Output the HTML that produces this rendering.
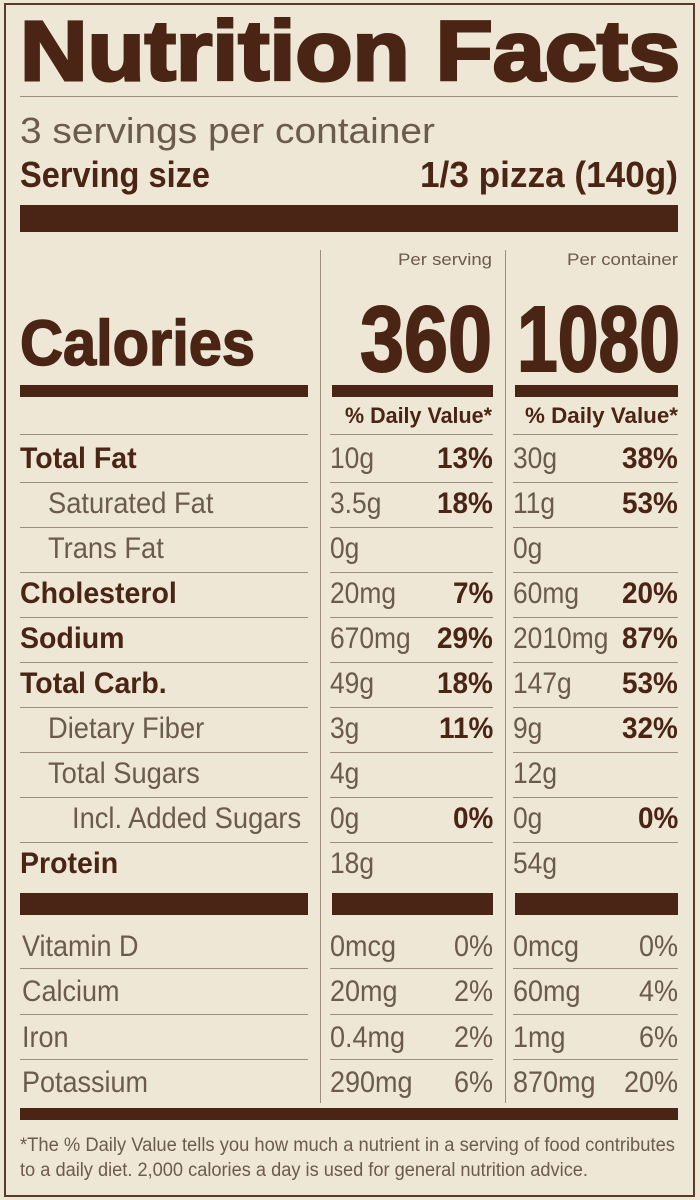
<!DOCTYPE html>
<html><head><meta charset="utf-8">
<style>
html,body{margin:0;padding:0}
body{width:700px;height:1200px;position:relative;overflow:hidden;background:#efe7d6;font-family:"Liberation Sans",sans-serif}
.t{position:absolute;white-space:nowrap;line-height:1}
.r{position:absolute}
</style></head>
<body>
<div class="r" style="left:4px;top:3px;width:687px;height:1190px;border:2px solid #5a3a28"></div>
<script>
const DARK='#4a2414', GRAY='#6b5b4b', LINE='#9c8d7c';
const upperLabels=['Total Fat','Saturated Fat','Trans Fat','Cholesterol','Sodium','Total Carb.','Dietary Fiber','Total Sugars','Incl. Added Sugars','Protein'];
const upperIndent=[0,1,1,0,0,0,1,1,2,0];
const servAmt=['10g','3.5g','0g','20mg','670mg','49g','3g','4g','0g','18g'];
const servPct=['13%','18%','','7%','29%','18%','11%','','0%',''];
const contAmt=['30g','11g','0g','60mg','2010mg','147g','9g','12g','0g','54g'];
const contPct=['38%','53%','','20%','87%','53%','32%','','0%',''];
const lowerLabels=['Vitamin D','Calcium','Iron','Potassium'];
const lowerServAmt=['0mcg','20mg','0.4mg','290mg'];
const lowerServPct=['0%','2%','2%','6%'];
const lowerContAmt=['0mcg','60mg','1mg','870mg'];
const lowerContPct=['0%','4%','6%','20%'];

const root=document.body;
function T(name,text,x,base,size,bold,color,w,align,stroke){
  const el=document.createElement('div');
  el.className='t';
  
  
  el.textContent=text;
  el.style.fontSize=size+'px';
  el.style.fontWeight=bold?'bold':'normal';
  el.style.color=color;
  if(stroke){el.style.webkitTextStroke=stroke+'px '+color;}
  el.style.top=(base-0.846*size)+'px';
  root.appendChild(el);
  const nat=el.getBoundingClientRect().width;
  const sx=w/nat;
  if(align==='right'){el.style.left=(x-w)+'px';}
  else el.style.left=x+'px';
  el.style.transformOrigin='0 0';
  el.style.transform='scaleX('+sx+')';
  return el;
}
function R(name,x,y,w,h,c){
  const el=document.createElement('div');
  el.className='r';
  
  
  el.style.cssText+='left:'+x+'px;top:'+y+'px;width:'+w+'px;height:'+h+'px;background:'+c;
  root.appendChild(el);
}
function TC(name,text,x,base,size,bold,color,cond,align){
  const el=T(name,text,x,base,size,bold,color,1,align);
  el.style.transform='none';
  const nat=el.getBoundingClientRect().width;
  const w=nat*cond;
  el.style.transform='scaleX('+cond+')';
  el.style.left=(align==='right'?(x-w):x)+'px';
  return el;
}
T('title','Nutrition Facts',20,80,84,true,DARK,660,null,3);
R('title-rule',20,96,658,1,LINE);
T('servings-per-container','3 servings per container',20,143,36,false,GRAY,415);
T('serving-size-label','Serving size',20,187,36,true,DARK,190);
T('serving-size-value','1/3 pizza (140g)',678,187,36,true,DARK,258,'right');
R('thick-bar-top',20,205,658,27,DARK);
R('column-divider-1',320,250,1,853,LINE);
R('column-divider-2',505,250,1,853,LINE);
T('per-serving-header','Per serving',492,265,17,false,GRAY,94,'right');
T('per-container-header','Per container',678,265,17,false,GRAY,111,'right');
T('calories-label','Calories',20,365,64,true,DARK,235,null,1.5);
T('calories-per-serving','360',492,372,93,true,DARK,132,'right',2);
T('calories-per-container','1080',680,372,93,true,DARK,163,'right',2);
R('calories-bar-left',20,385,288,12,DARK);
R('calories-bar-mid',332,385,161,12,DARK);
R('calories-bar-right',515,385,163,12,DARK);
T('daily-value-header-serving','% Daily Value*',492,424,22,true,DARK,147,'right');
T('daily-value-header-container','% Daily Value*',678,424,22,true,DARK,153,'right');
R('dv-rule-mid',330,434,163,1,LINE);
R('dv-rule-right',513,434,165,1,LINE);
R('dv-rule-left',20,434,288,1,LINE);
const C=0.9, CB=0.95;
upperLabels.forEach((lab,i)=>{
  const b=469+i*45;
  const bold=upperIndent[i]===0;
  TC('nutrient-label',lab,20+[0,28,52][upperIndent[i]],b,30,bold,bold?DARK:GRAY,bold?CB:0.91);
  TC('serving-amount',servAmt[i],330,b,30,false,GRAY,0.88);
  if(servPct[i]) TC('serving-percent',servPct[i],493,b,30,true,DARK,0.93,'right');
  TC('container-amount',contAmt[i],513,b,30,false,GRAY,0.88);
  if(contPct[i]) TC('container-percent',contPct[i],678,b,30,true,DARK,0.93,'right');
  if(i<9){
    const y=482+i*45;
    R('row-rule-left',20,y,288,1,LINE);
    R('row-rule-mid',330,y,163,1,LINE);
    R('row-rule-right',513,y,165,1,LINE);
  }
});
R('vitamin-bar-left',20,893,288,22,DARK);
R('vitamin-bar-mid',332,893,161,22,DARK);
R('vitamin-bar-right',515,893,163,22,DARK);
lowerLabels.forEach((lab,i)=>{
  const b=957+i*45.5;
  TC('vitamin-label',lab,22,b,30,false,GRAY,C);
  TC('vitamin-serving-amount',lowerServAmt[i],330,b,30,false,GRAY,C);
  TC('vitamin-serving-percent',lowerServPct[i],493,b,30,false,GRAY,C,'right');
  TC('vitamin-container-amount',lowerContAmt[i],513,b,30,false,GRAY,C);
  TC('vitamin-container-percent',lowerContPct[i],678,b,30,false,GRAY,C,'right');
  if(i<3){
    const y=968+i*45.5;
    R('vitamin-rule-left',20,y,288,1,LINE);
    R('vitamin-rule-mid',330,y,163,1,LINE);
    R('vitamin-rule-right',513,y,165,1,LINE);
  }
});
R('thick-bar-bottom',20,1108,658,12,DARK);
T('footnote-line-1','*The % Daily Value tells you how much a nutrient in a serving of food contributes',20,1152,19,false,GRAY,655);
T('footnote-line-2','to a daily diet. 2,000 calories a day is used for general nutrition advice.',20,1177,19,false,GRAY,568);
</script>
</body></html>
